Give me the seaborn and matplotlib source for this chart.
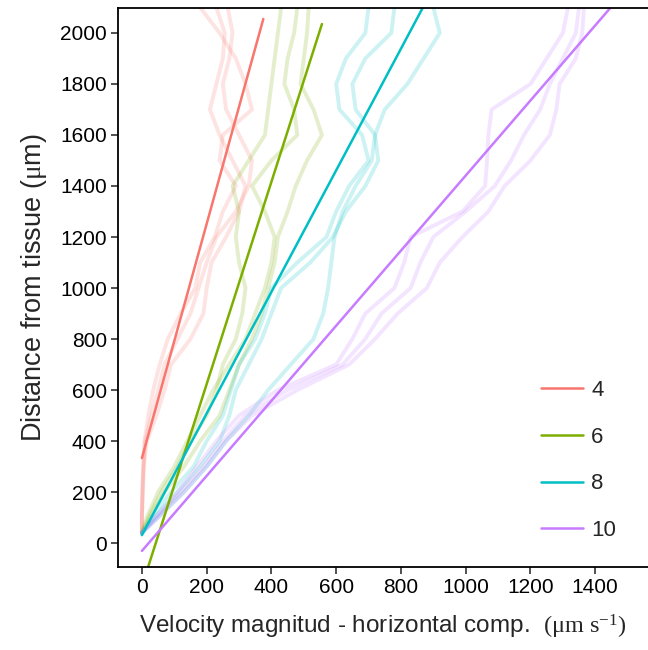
import numpy as np
import pandas as pd
import matplotlib
matplotlib.use("Agg")
import matplotlib.pyplot as plt
import seaborn as sns

# ---------------- data ----------------
groups = ["4", "6", "8", "10"]
colors = ["#F8766D", "#7CAE00", "#00BFC4", "#C77CFF"]

# depth levels (distance from tissue, um) shared by all raw profiles
depth = [40, 100, 200, 300, 400, 500, 600, 700, 800, 900, 1000, 1100,
         1200, 1300, 1400, 1500, 1600, 1700, 1800, 1900, 2000, 2100]

# raw velocity profiles (um/s) per group
prof_4_a = [0, 0, 2, 5, 10, 30, 50, 70, 110, 150, 175, 200, 230, 290, 330, 340, 300, 260, 250, 270, 280, 265]
prof_4_b = [0, 0, 3, 6, 15, 45, 70, 90, 150, 190, 200, 215, 260, 300, 320, 280, 240, 210, 230, 250, 256, 230]
prof_4_c = [0, 0, 1, 4, 8, 20, 35, 55, 80, 120, 165, 180, 225, 250, 290, 240, 250, 340, 320, 290, 240, 180]

prof_6_a = [0, 20, 60, 110, 150, 200, 230, 250, 290, 310, 320, 300, 290, 300, 280, 330, 380, 390, 400, 410, 420, 430]
prof_6_b = [0, 15, 50, 100, 140, 180, 220, 270, 320, 350, 380, 400, 410, 380, 340, 400, 480, 470, 440, 450, 470, 480]
prof_6_c = [0, 25, 70, 130, 180, 240, 270, 300, 340, 370, 390, 410, 420, 450, 475, 510, 556, 530, 490, 500, 510, 515]

prof_8_a = [0, 30, 90, 160, 200, 250, 275, 300, 350, 380, 400, 480, 570, 600, 640, 700, 680, 610, 600, 630, 690, 700]
prof_8_b = [0, 40, 110, 180, 240, 270, 290, 330, 370, 400, 430, 520, 590, 630, 690, 730, 720, 660, 650, 690, 770, 780]
prof_8_c = [0, 50, 130, 200, 260, 330, 390, 460, 530, 560, 575, 585, 595, 620, 660, 710, 720, 750, 820, 870, 920, 900]

prof_10_a = [0, 40, 110, 170, 230, 300, 420, 600, 650, 690, 780, 810, 830, 990, 1060, 1066, 1070, 1080, 1200, 1250, 1300, 1316]
prof_10_b = [0, 50, 130, 200, 260, 340, 480, 640, 720, 790, 880, 920, 990, 1070, 1120, 1200, 1260, 1280, 1290, 1340, 1360, 1365]
prof_10_c = [0, 45, 120, 190, 250, 320, 450, 620, 690, 740, 830, 860, 900, 1000, 1090, 1140, 1180, 1230, 1260, 1300, 1340, 1350]

# fitted lines: end points (velocity, distance)
fit_v0 = [0, 0, 0, 0]
fit_v1 = [375, 556, 880, 1460]
fit_d0 = [333, -170, 31, -31]
fit_d1 = [2055, 2035, 2129, 2118]

x_ticks = [0, 200, 400, 600, 800, 1000, 1200, 1400]
y_ticks = [0, 200, 400, 600, 800, 1000, 1200, 1400, 1600, 1800, 2000]

# ---------------- build tables ----------------
profiles = {
    "4": [prof_4_a, prof_4_b, prof_4_c],
    "6": [prof_6_a, prof_6_b, prof_6_c],
    "8": [prof_8_a, prof_8_b, prof_8_c],
    "10": [prof_10_a, prof_10_b, prof_10_c],
}
rows = []
for g, plist in profiles.items():
    for k, p in enumerate(plist):
        for i, (v, d) in enumerate(zip(p, depth)):
            rows.append(dict(group=g, unit=f"{g}_{k}", v=v, d=d, order=i))
raw = pd.DataFrame(rows)

frows = []
for g, v0, v1, d0, d1 in zip(groups, fit_v0, fit_v1, fit_d0, fit_d1):
    frows.append(dict(group=g, v=v0, d=d0, order=0))
    frows.append(dict(group=g, v=v1, d=d1, order=1))
fit = pd.DataFrame(frows)

# ---------------- plot ----------------
sns.set_theme(style="white")
plt.rcParams["font.family"] = ["Liberation Sans", "DejaVu Sans"]
plt.rcParams["mathtext.fontset"] = "custom"
plt.rcParams["mathtext.rm"] = "Liberation Serif"
plt.rcParams["mathtext.it"] = "Liberation Serif:italic"

fig = plt.figure(figsize=(6.48, 6.5), dpi=100)
ax = fig.add_axes([0.182, 0.1277, 0.818, 0.86])

palette = dict(zip(groups, colors))
sns.lineplot(data=raw, x="v", y="d", hue="group", units="unit", estimator=None,
             sort=False, palette=palette, hue_order=groups, alpha=0.2,
             linewidth=2.8, legend=False, ax=ax)
sns.lineplot(data=fit, x="v", y="d", hue="group", estimator=None, sort=False,
             palette=palette, hue_order=groups, linewidth=1.8, ax=ax)

ax.set_xlim(-74, 1563)
ax.set_ylim(-94, 2098)
ax.set_xticks(x_ticks)
ax.set_yticks(y_ticks)
ax.tick_params(axis="both", which="major", length=5, width=1.2, color="#333333",
               labelsize=15, labelcolor="black", direction="out",
               bottom=True, left=True, pad=3)
for s in ["left", "bottom", "top"]:
    ax.spines[s].set_visible(True)
    ax.spines[s].set_color("black")
    ax.spines[s].set_linewidth(1.3)
ax.spines["right"].set_visible(False)

ax.set_xlabel(r"Velocity magnitud - horizontal comp.  $(\mathrm{\mu m\ s^{-1}})$",
              fontsize=17.5, labelpad=11)
ax.set_ylabel(r"Distance from tissue ($\mathrm{\mu}$m)", fontsize=19.5, labelpad=8)

leg = ax.legend(title=None, frameon=False, loc="upper left",
                bbox_to_anchor=(0.835, 0.415), bbox_transform=fig.transFigure,
                fontsize=16, handlelength=1.9, handletextpad=0.35,
                labelspacing=1.15, borderaxespad=0, borderpad=0)
for line in leg.get_lines():
    line.set_linewidth(1.8)

fig.savefig("out.png", dpi=100, facecolor="white")
